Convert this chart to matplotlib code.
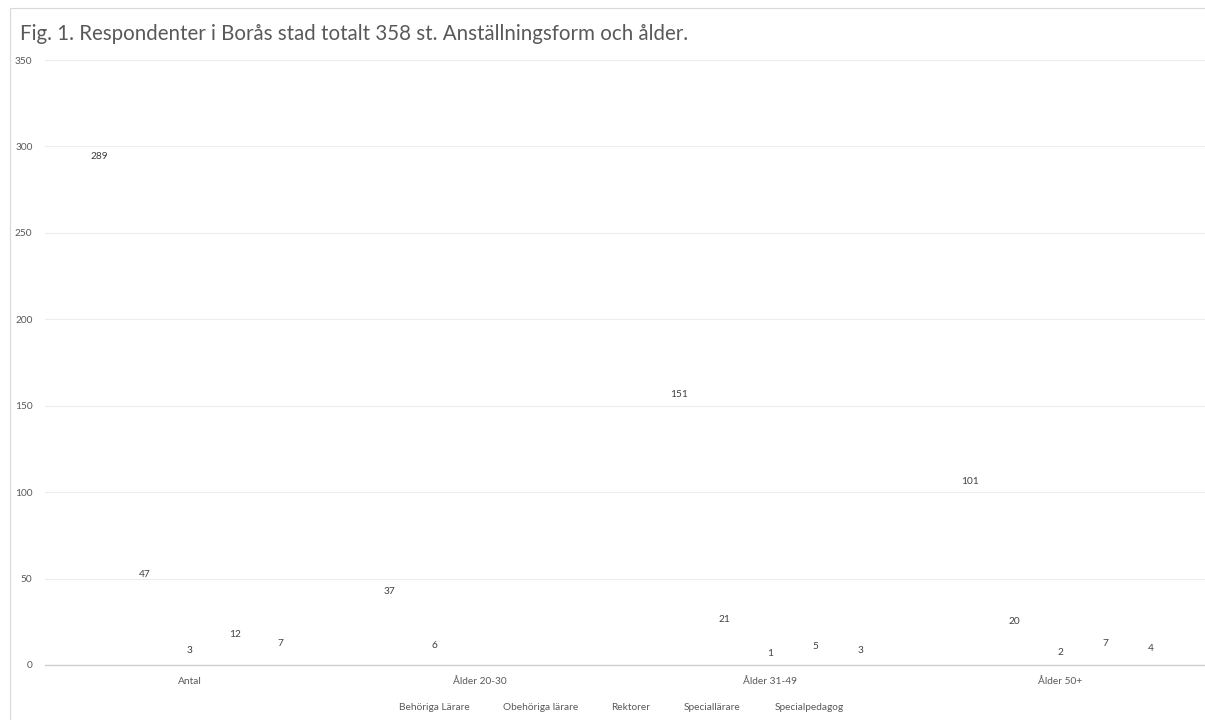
import numpy as np
import matplotlib.pyplot as plt
from matplotlib.patches import Rectangle

plt.rcParams['font.family'] = ['Lato', 'DejaVu Sans']

# kategorier och serier
categories = ['Antal', 'Ålder 20-30', 'Ålder 31-49', 'Ålder 50+']
series_names = ['Behöriga Lärare', 'Obehöriga lärare', 'Rektorer', 'Speciallärare', 'Specialpedagog']
behoriga = [289, 37, 151, 101]
obehoriga = [47, 6, 21, 20]
rektorer = [3, np.nan, 1, 2]
speciallarare = [12, np.nan, 5, 7]
specialpedagog = [7, np.nan, 3, 4]
series = [behoriga, obehoriga, rektorer, speciallarare, specialpedagog]

fig = plt.figure(figsize=(12.05, 7.2), dpi=100)
ax = fig.add_axes([45 / 1205, 55 / 720, 1 - 45 / 1205, 605 / 720])

x = np.arange(len(categories))
w = 0.156
for i, (name, vals) in enumerate(zip(series_names, series)):
    pos = x + (i - 2) * w
    ax.bar(pos, vals, w, color='none', edgecolor='none', label=name)
    for px, v in zip(pos, vals):
        if np.isnan(v):
            continue
        ax.annotate(f'{v:g}', (px, v), xytext=(0, 3.5), textcoords='offset points',
                    ha='center', va='bottom', fontsize=7.3, color='#404040')

ax.set_xlim(-0.5, len(categories) - 0.5)
ax.set_ylim(0, 350)
ax.set_yticks(range(0, 351, 50))
ax.set_xticks(x)
ax.set_xticklabels(categories)
ax.tick_params(axis='both', length=0, labelsize=7.3, labelcolor='#595959')
ax.tick_params(axis='x', pad=9)
ax.tick_params(axis='y', pad=9)
ax.yaxis.grid(True, color='#EDEDED', linewidth=0.8)
ax.set_axisbelow(True)
for s in ['top', 'right', 'left']:
    ax.spines[s].set_visible(False)
ax.spines['bottom'].set_color('#D0D0D0')
ax.spines['bottom'].set_linewidth(1.0)

leg = fig.legend(loc='center', bbox_to_anchor=(621 / 1205, 1 - 707 / 720), ncol=5,
                 frameon=False, fontsize=7.3, handlelength=0, handletextpad=0,
                 columnspacing=3.3, labelcolor='#595959')

fig.text(20 / 1205, 1 - 34 / 720, 'Fig. 1. Respondenter i Borås stad totalt 358 st. Anställningsform och ålder.',
         fontsize=14.8, color='#595959', va='center', ha='left')

# ram runt diagrammet
fig.patches.append(Rectangle((10 / 1205, -0.1), 1.1, (720 - 8) / 720 + 0.1,
                             transform=fig.transFigure, fill=False,
                             edgecolor='#D9D9D9', linewidth=0.8))

plt.savefig('out.png', dpi=100)
